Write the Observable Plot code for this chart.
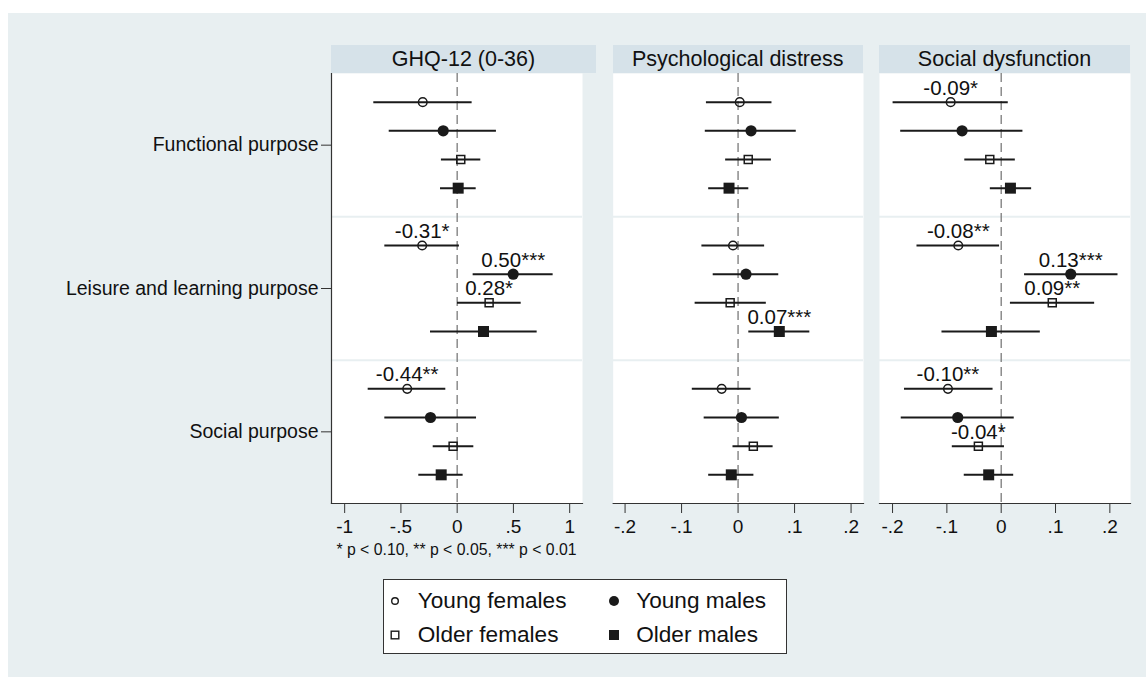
<!DOCTYPE html>
<html>
<head>
<meta charset="utf-8">
<script src="https://cdn.jsdelivr.net/npm/d3@7"></script>
<script src="https://cdn.jsdelivr.net/npm/@observablehq/plot@0.6"></script>
<style>
  body { margin: 0; background: #fff; font-family: "Liberation Sans", Arial, Helvetica, sans-serif; color: #111; }
  #root { position: relative; width: 1146px; height: 677px; overflow: hidden; }
  #bg { position: absolute; left: 8px; top: 13px; width: 1138px; height: 664px; background: #e8eff1; }
  .strip { position: absolute; top: 45px; height: 28px; line-height: 29px; background: #d6e2e9; text-align: center; font-size: 21.5px; color: #111; white-space: nowrap; }
  .panel { position: absolute; top: 73px; }
  #note { position: absolute; left: 331px; width: 251px; top: 541px; text-align: center; font-size: 15.8px; color: #111; white-space: nowrap; }
  #legend { position: absolute; left: 383px; top: 579px; width: 404px; height: 75px; box-sizing: border-box; border: 1.5px solid #333; background: #fff; }
  .lg-item { position: absolute; font-size: 22.6px; line-height: 26px; color: #111; white-space: nowrap; }
  .lg-sym { position: absolute; }
</style>
</head>
<body>
<div id="root">
  <div id="bg"></div>
  <div id="strip0" class="strip" style="left:331px;width:265px;"></div>
  <div id="strip1" class="strip" style="left:612.5px;width:250.5px;"></div>
  <div id="strip2" class="strip" style="left:879px;width:251px;"></div>
  <div id="p0" class="panel" style="left:0px;"></div>
  <div id="p1" class="panel" style="left:600px;"></div>
  <div id="p2" class="panel" style="left:866px;"></div>
  <div id="note"></div>
  <div id="legend"></div>
</div>
<script>
// ---------- data ----------
const categories = ["Functional purpose", "Leisure and learning purpose", "Social purpose"];
const series = ["Young females", "Young males", "Older females", "Older males"];
const outcomes = ["GHQ-12 (0-36)", "Psychological distress", "Social dysfunction"];
const noteText = "* p < 0.10, ** p < 0.05, *** p < 0.01";

// order within each category: Young females, Young males, Older females, Older males
const ghqEst = [-0.306, -0.124, 0.032, 0.009,  -0.311, 0.498, 0.284, 0.234,  -0.444, -0.237, -0.036, -0.142];
const ghqLo  = [-0.741, -0.604, -0.140, -0.148, -0.643, 0.142, 0.003, -0.237, -0.791, -0.643, -0.213, -0.341];
const ghqHi  = [0.133, 0.349, 0.210, 0.169,    0.020, 0.853, 0.569, 0.711,   -0.101, 0.172, 0.148, 0.053];
const ghqLabels = ["", "", "", "",  "-0.31*", "0.50***", "0.28*", "",  "-0.44**", "", "", ""];

const psyEst = [0.003, 0.023, 0.018, -0.016,  -0.009, 0.014, -0.014, 0.073,  -0.029, 0.006, 0.027, -0.012];
const psyLo  = [-0.056, -0.058, -0.022, -0.052, -0.064, -0.044, -0.076, 0.019, -0.081, -0.060, -0.009, -0.052];
const psyHi  = [0.060, 0.103, 0.059, 0.019,   0.047, 0.072, 0.050, 0.127,   0.023, 0.073, 0.062, 0.028];
const psyLabels = ["", "", "", "",  "", "", "", "0.07***",  "", "", "", ""];

const socEst = [-0.093, -0.072, -0.021, 0.017,  -0.079, 0.128, 0.094, -0.018,  -0.098, -0.080, -0.042, -0.023];
const socLo  = [-0.199, -0.185, -0.067, -0.020, -0.155, 0.043, 0.017, -0.109,  -0.178, -0.184, -0.090, -0.068];
const socHi  = [0.013, 0.040, 0.026, 0.056,    -0.003, 0.215, 0.172, 0.072,    -0.015, 0.024, 0.006, 0.023];
const socLabels = ["-0.09*", "", "", "",  "-0.08**", "0.13***", "0.09**", "",  "-0.10**", "", "-0.04*", ""];

const ghqTicks = [-1, -0.5, 0, 0.5, 1];
const ghqTickLabels = ["-1", "-.5", "0", ".5", "1"];
const subTicks = [-0.2, -0.1, 0, 0.1, 0.2];
const subTickLabels = ["-.2", "-.1", "0", ".1", ".2"];

// ---------- styling ----------
const bgColor = "#e8eff1";
const ink = "#1a1a1a";
const fontFamily = '"Liberation Sans", Arial, Helvetica, sans-serif';
const markerStyles = [
  {symbol: "circle", r: 4.3, fill: "none", stroke: ink, strokeWidth: 1.5},
  {symbol: "circle", r: 5.6, fill: ink, stroke: "none"},
  {symbol: "square", r: 4.5, fill: "none", stroke: ink, strokeWidth: 1.5},
  {symbol: "square", r: 6.2, fill: ink, stroke: "none"}
];

function buildRows(est, lo, hi, labels) {
  const rows = [];
  categories.forEach((c, g) => {
    series.forEach((s, k) => {
      const i = g * series.length + k;
      rows.push({cat: c, series: s, k, y: g + 1 + (k - (series.length - 1) / 2) * 0.2,
                 est: est[i], lo: lo[i], hi: hi[i], label: labels[i]});
    });
  });
  return rows;
}

function panel({est, lo, hi, labels, domain, ticks, tickLabels, showY, width, marginLeft, marginRight}) {
  const rows = buildRows(est, lo, hi, labels);
  return Plot.plot({
    width, height: 470, marginLeft, marginRight, marginTop: 0, marginBottom: 40,
    style: {background: "none", fontFamily, fontSize: "19px", color: "#222", overflow: "visible"},
    x: {domain},
    y: {domain: [0.5, categories.length + 0.5], reverse: true, axis: showY ? undefined : null},
    marks: [
      Plot.frame({fill: "white", stroke: null}),
      Plot.ruleY(d3.range(1, categories.length).map(i => i + 0.5), {stroke: bgColor, strokeWidth: 2}),
      Plot.ruleX([0], {stroke: "#7a7a7a", strokeWidth: 1.3, strokeDasharray: "9,5"}),
      Plot.ruleY(rows, {y: "y", x1: "lo", x2: "hi", stroke: ink, strokeWidth: 2}),
      ...series.map((s, k) => Plot.dot(rows.filter(d => d.k === k), {x: "est", y: "y", ...markerStyles[k]})),
      Plot.text(rows.filter(d => d.label), {x: "est", y: "y", text: "label", dy: -14, fontSize: 20.5, fill: "#111"}),
      Plot.axisX({ticks, tickFormat: d => tickLabels[ticks.indexOf(d)], tickSize: 10, tickPadding: 6, fontSize: 19, label: null, fill: "#111", stroke: "#333"}),
      Plot.frame({anchor: "bottom", stroke: "#333", strokeWidth: 1.2}),
      showY ? Plot.axisY({ticks: categories.map((c, i) => i + 1), tickFormat: d => categories[d - 1], tickSize: 10, tickPadding: 3, fontSize: 19.5, label: null, fill: "#111", stroke: "#333"}) : null,
      showY ? Plot.frame({anchor: "left", stroke: "#333", strokeWidth: 1.2}) : null
    ]
  });
}

document.getElementById("p0").appendChild(panel({
  est: ghqEst, lo: ghqLo, hi: ghqHi, labels: ghqLabels,
  domain: [-1.117, 1.114], ticks: ghqTicks, tickLabels: ghqTickLabels,
  showY: true, width: 596, marginLeft: 331, marginRight: 14
}));
document.getElementById("p1").appendChild(panel({
  est: psyEst, lo: psyLo, hi: psyHi, labels: psyLabels,
  domain: [-0.221, 0.222], ticks: subTicks, tickLabels: subTickLabels,
  showY: false, width: 275, marginLeft: 12.7, marginRight: 12
}));
document.getElementById("p2").appendChild(panel({
  est: socEst, lo: socLo, hi: socHi, labels: socLabels,
  domain: [-0.224, 0.238], ticks: subTicks, tickLabels: subTickLabels,
  showY: false, width: 276, marginLeft: 13, marginRight: 12
}));

outcomes.forEach((t, i) => { document.getElementById("strip" + i).textContent = t; });
document.getElementById("note").textContent = noteText;

// ---------- legend ----------
const legendSym = [
  '<circle cx="8" cy="8" r="3.3" fill="none" stroke="' + ink + '" stroke-width="1.4"/>',
  '<circle cx="8" cy="8" r="5" fill="' + ink + '"/>',
  '<rect x="4.2" y="4.2" width="7.6" height="7.6" fill="none" stroke="' + ink + '" stroke-width="1.4"/>',
  '<rect x="3" y="3" width="10" height="10" fill="' + ink + '"/>'
];
const legend = document.getElementById("legend");
series.forEach((name, k) => {
  const col = k % 2, row = Math.floor(k / 2);
  const cy = 21.2 + row * 33.3;
  const sym = document.createElement("div");
  sym.className = "lg-sym";
  sym.style.left = (3.5 + col * 219 - 0.5) + "px";
  sym.style.top = (cy - 8) + "px";
  sym.innerHTML = '<svg width="16" height="16">' + legendSym[k] + '</svg>';
  legend.appendChild(sym);
  const item = document.createElement("div");
  item.className = "lg-item";
  item.style.left = (33.8 + col * 218.4) + "px";
  item.style.top = (cy - 13) + "px";
  item.textContent = name;
  legend.appendChild(item);
});
</script>
</body>
</html>
